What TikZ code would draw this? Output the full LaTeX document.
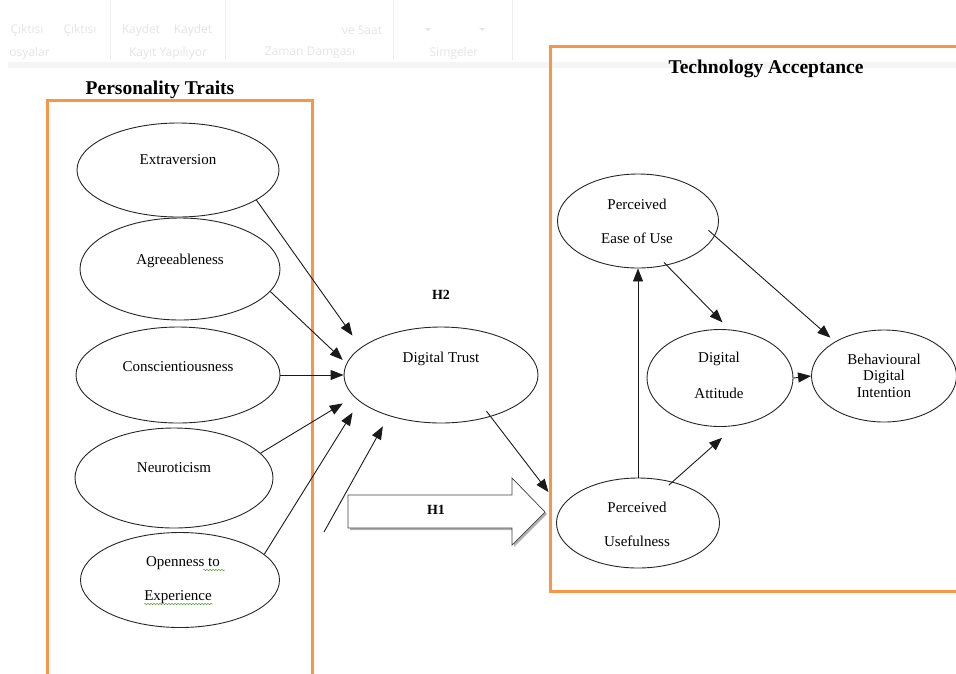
\documentclass[tikz,border=0pt]{standalone}
\usepackage{fontspec}
\setmainfont{Liberation Serif}
\newfontfamily\uifont{Open Sans}
\usetikzlibrary{arrows.meta,shapes.geometric,decorations.pathmorphing}
\definecolor{boxorange}{HTML}{F79646}
\definecolor{uigray}{HTML}{E4E4E4}
\definecolor{uiline}{HTML}{EEEEEE}
\definecolor{spellgreen}{HTML}{5B9B3A}
\begin{document}
\begin{tikzpicture}[x=1pt,y=-1pt,
 ell/.style={draw=black!85, line width=0.9pt, ellipse, inner sep=0pt},
 lab/.style={font=\fontsize{15}{18}\selectfont, inner sep=0pt},
 ttl/.style={font=\fontsize{19.5}{23}\selectfont\bfseries, inner sep=0pt},
 hlab/.style={font=\fontsize{14}{17}\selectfont\bfseries, inner sep=0pt},
 arr/.style={draw=black!90, line width=0.9pt, -{Triangle[length=13pt,width=10pt]}},
 obox/.style={draw=boxorange, line width=3pt},
 ui/.style={font=\uifont\fontsize{12}{14}\selectfont, text=uigray, inner sep=0pt},
 squig/.style={draw=spellgreen, line width=0.5pt, decorate, decoration={snake, amplitude=0.7pt, segment length=3pt}}
]
\useasboundingbox (0,0) rectangle (956,673);
% faint ribbon
\fill[uiline!60] (8,62) rectangle (956,68);
\foreach \sx in {110,225,393,512} \draw[uiline, line width=0.8pt] (\sx,0) -- (\sx,60);
\node[ui] (r1) at (27,30) {Çıktısı};
\node[ui] (r2) at (80,30) {Çıktısı};
\node[ui] (r3) at (141,30) {Kaydet};
\node[ui] (r4) at (193,30) {Kaydet};
\node[ui] (r5) at (362,30) {ve Saat};
\node[ui, anchor=east] (r6) at (50,53) {osyalar};
\node[ui] (r7) at (168,53) {Kayıt Yapılıyor};
\node[ui] (r8) at (310,53) {Zaman Damgası};
\node[ui] (r9) at (454,53) {Simgeler};
\fill[uigray] (425,28) -- (431,28) -- (428,31) -- cycle;
\fill[uigray] (479,28) -- (485,28) -- (482,31) -- cycle;
% orange boxes
\draw[obox] (47,680) -- (47,100) -- (312,100) -- (312,680);
\draw[obox] (970,46) -- (550,46) -- (550,591) -- (970,591);
% titles
\node[ttl] (tpers) at (160,90) {Personality Traits};
\node[ttl] (ttech) at (766,69) {Technology Acceptance};
% left ellipses
\node[ell, minimum width=202pt, minimum height=94pt] (ext) at (178,170) {};
\node[lab] (extT) at (178,160) {Extraversion};
\node[ell, minimum width=200pt, minimum height=102pt] (agr) at (180,269) {};
\node[lab] (agrT) at (180,261) {Agreeableness};
\node[ell, minimum width=204pt, minimum height=96pt] (con) at (178,375) {};
\node[lab] (conT) at (178,367) {Conscientiousness};
\node[ell, minimum width=198pt, minimum height=100pt] (neu) at (174,478) {};
\node[lab] (neuT) at (174,468) {Neuroticism};
\node[ell, minimum width=199pt, minimum height=95pt] (opn) at (180,580) {};
\node[lab] (opnT1) at (183,563) {Openness to};
\node[lab] (opnT2) at (178,597) {Experience};
\draw[squig] (203,570) -- (225,570);
\draw[squig] (144,604) -- (213,604);
% digital trust
\node[ell, minimum width=194pt, minimum height=96pt] (dt) at (441,375) {};
\node[lab] (dtT) at (441,359) {Digital Trust};
\node[hlab] (h2) at (441,295) {H2};
% block arrow H1
\fill[black!30] (350,497) -- (514,497) -- (514,480) -- (547,514) -- (514,547) -- (514,530) -- (350,530) -- cycle;
\draw[fill=white, draw=black!75, line width=0.7pt] (348,495) -- (512,495) -- (512,478) -- (545,512) -- (512,545) -- (512,528) -- (348,528) -- cycle;
\node[hlab] (h1) at (436,510) {H1};
% right ellipses
\node[ell, minimum width=161pt, minimum height=94pt] (peou) at (638,221) {};
\node[lab] (peouT1) at (637,204) {Perceived};
\node[lab] (peouT2) at (637,238) {Ease of Use};
\node[ell, minimum width=163pt, minimum height=90pt] (pu) at (638,523) {};
\node[lab] (puT1) at (637,507) {Perceived};
\node[lab] (puT2) at (637,541) {Usefulness};
\node[ell, minimum width=146pt, minimum height=97pt] (da) at (720,378) {};
\node[lab] (daT1) at (719,359) {Digital};
\node[lab] (daT2) at (719,393) {Attitude};
\node[ell, minimum width=145pt, minimum height=92pt] (bdi) at (884,376) {};
\node[lab] (bdiT1) at (884,359) {Behavioural};
\node[lab] (bdiT2) at (884,377) {Digital};
\node[lab] (bdiT3) at (884,393) {Intention};
% connectors into digital trust
\coordinate (free) at (324,532);
\draw[arr, shorten >=14.5pt] (ext.-21) -- (dt.161);
\draw[arr, shorten >=5pt] (agr.-14.5) -- (dt.173);
\draw[arr] (con.east) -- (dt.west);
\draw[arr, shorten >=13pt] (neu.16) -- (dt.-166);
\draw[arr, shorten >=13pt] (opn.17) -- (dt.-162);
\draw[arr, shorten >=12pt] (free) -- (dt.-142);
\draw[arr, shorten <=-7pt, shorten >=20pt] (dt.-40) -- (pu.169);
% technology acceptance connectors
\draw[arr] (pu.north) -- (peou.south);
\draw[arr, shorten <=-4pt, shorten >=10pt] (peou.-57) -- (da.79);
\draw[arr, shorten <=-8.5pt, shorten >=6pt] (peou.-11.5) -- (bdi.145);
\draw[arr, shorten <=-5pt, shorten >=18pt] (pu.50) -- (da.-72);
\draw[arr] (da.east) -- (bdi.west);
\end{tikzpicture}
\end{document}
